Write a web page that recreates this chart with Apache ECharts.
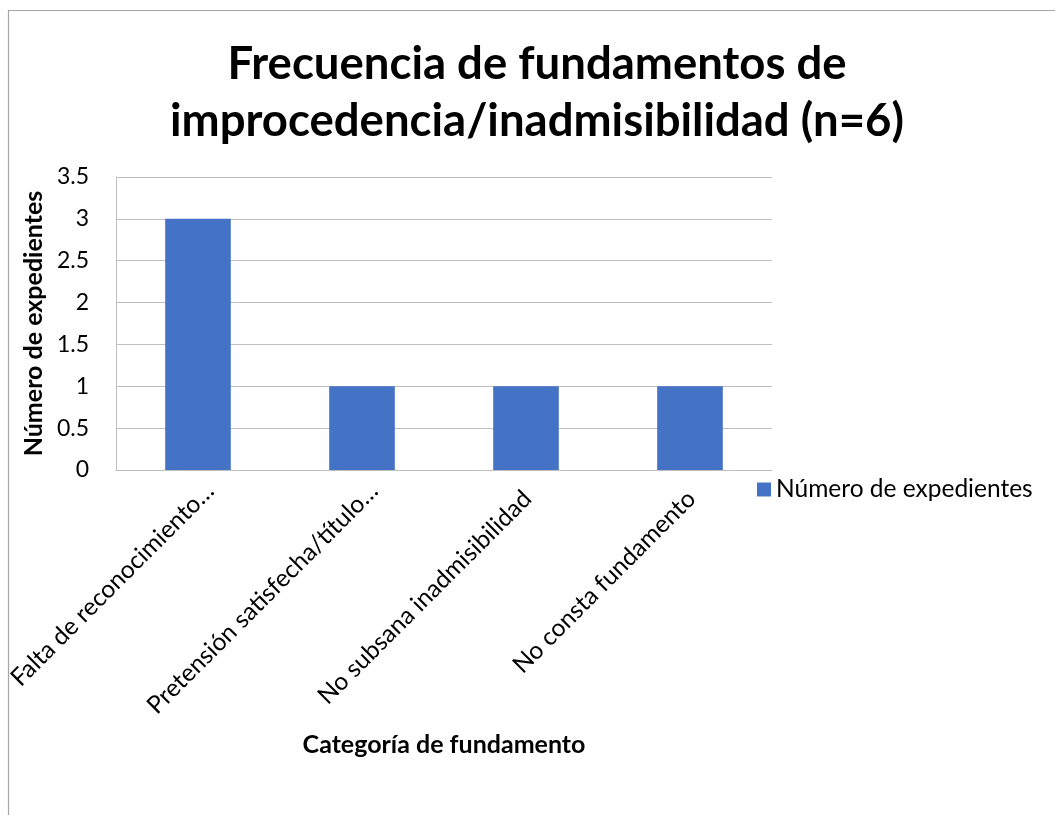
<!DOCTYPE html>
<html>
<head>
<meta charset="utf-8">
<script src="https://cdn.jsdelivr.net/npm/echarts@6/dist/echarts.min.js"></script>
<style>html,body{margin:0;padding:0;background:#fff;}#c{width:1055px;height:815px;}</style>
</head>
<body>
<div id="c"></div>
<script>
const titleLines = ['Frecuencia de fundamentos de', 'improcedencia/inadmisibilidad (n=6)'];
const categories = ['Falta de reconocimiento…', 'Pretensión satisfecha/título…', 'No subsana inadmisibilidad', 'No consta fundamento'];
const seriesName = 'Número de expedientes';
const values = [3, 1, 1, 1];
const yAxisTitle = 'Número de expedientes';
const xAxisTitle = 'Categoría de fundamento';
const yMin = 0, yMax = 3.5, yStep = 0.5;

const FONT = 'Lato';
const chart = echarts.init(document.getElementById('c'), null, {renderer: 'canvas'});
chart.setOption({
  animation: false,
  backgroundColor: '#fff',
  textStyle: {fontFamily: FONT},
  title: {
    text: titleLines.join('\n'),
    left: 537,
    textAlign: 'center',
    top: 36,
    padding: 0,
    textStyle: {fontFamily: FONT, fontWeight: 'bold', fontSize: 45.5, lineHeight: 57, color: '#000'}
  },
  legend: {
    data: [seriesName],
    left: 752,
    top: 472,
    icon: 'rect',
    itemWidth: 14,
    itemHeight: 14,
    itemGap: 6,
    textStyle: {fontFamily: FONT, fontSize: 24.5, color: '#000'}
  },
  grid: {left: 116, right: 283, top: 177, bottom: 345, containLabel: false},
  xAxis: {
    type: 'category',
    data: categories,
    name: xAxisTitle,
    nameLocation: 'middle',
    nameGap: 262,
    nameTextStyle: {fontFamily: FONT, fontWeight: 'bold', fontSize: 25, color: '#000'},
    axisLine: {show: true, lineStyle: {color: '#bfbfbf', width: 1}},
    axisTick: {show: false},
    axisLabel: {
      interval: 0, rotate: 45, margin: 5, verticalAlign: 'top',
      fontFamily: FONT, fontSize: 24.5, color: '#000',
      formatter: function (v) { return v.endsWith('…') ? '{e|' + v + '}' : '{n|' + v + '}'; },
      rich: {
        e: {fontFamily: FONT, fontSize: 24.5, color: '#000', lineHeight: 34},
        n: {fontFamily: FONT, fontSize: 24.5, color: '#000', lineHeight: 30, padding: [0, 13, 0, 0]}
      }
    }
  },
  yAxis: {
    type: 'value',
    min: yMin, max: yMax, interval: yStep,
    name: yAxisTitle,
    nameLocation: 'middle',
    nameGap: 70,
    nameRotate: 90,
    nameTextStyle: {fontFamily: FONT, fontWeight: 'bold', fontSize: 25, color: '#000'},
    axisLine: {show: true, lineStyle: {color: '#bfbfbf', width: 1}},
    axisTick: {show: false},
    axisLabel: {margin: 27, fontFamily: FONT, fontSize: 23, color: '#000'},
    splitLine: {show: true, lineStyle: {color: '#bfbfbf', width: 1}}
  },
  series: [{
    name: seriesName,
    type: 'bar',
    data: values,
    barWidth: '40%',
    itemStyle: {color: '#4472C4'}
  }],
  graphic: [{
    type: 'rect',
    shape: {x: 8.5, y: 10.5, width: 1200, height: 1000},
    style: {fill: 'none', stroke: '#a6a6a6', lineWidth: 1.2},
    silent: true,
    z: 100
  }]
});
</script>
</body>
</html>
